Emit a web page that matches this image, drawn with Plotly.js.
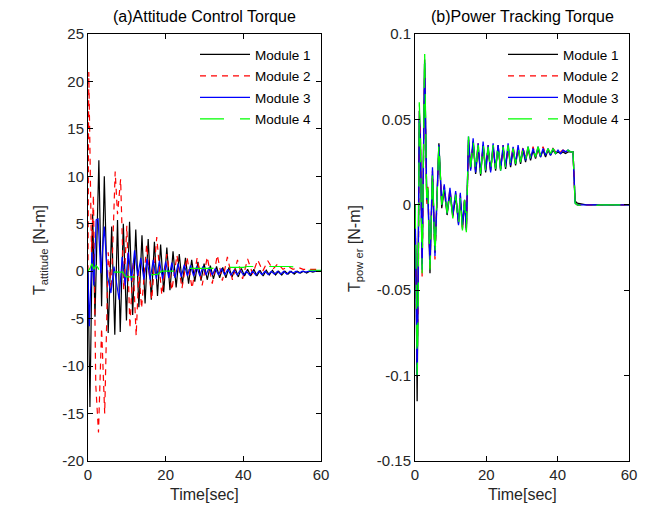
<!DOCTYPE html>
<html>
<head>
<meta charset="utf-8">
<script src="https://cdn.plot.ly/plotly-3.0.1.min.js"></script>
<style>html,body{margin:0;padding:0;background:#fff;}#chart{width:661px;height:510px;}</style>
</head>
<body>
<div id="chart"></div>
<script>
// ---------- (a) Attitude control torque [N-m] ----------
const tAttM1 = [0, 0.5, 1.2, 1.8, 2.8, 3.5, 4.2, 5.2, 6.1, 6.9, 7.6, 8.3,
  9.1, 9.9, 10.7, 11.5, 12.3, 13.1, 13.9, 14.7, 15.5, 16.3, 17.1, 17.9, 18.7, 19.5, 20.3, 21.1,
  21.9, 22.7, 23.5, 24.3, 25.1, 25.9, 26.7, 27.5, 28.3, 29.1, 29.9, 30.7, 31.5, 32.3, 33.1, 33.9,
  34.7, 35.5, 36.3, 37.1, 37.9, 38.7, 39.5, 40.3, 41.1, 41.9, 42.7, 43.5, 44.3, 45.1, 45.9, 46.7,
  47.5, 48.3, 49.1, 49.9, 50.7, 51.5, 52.3, 53.1, 53.9, 54.7, 55.5, 56.3, 57.1, 57.9, 58.7, 60];
const attM1 = [0, -14.3, 6, -4.8, 11.7, -3.7, 10, -6.5, 4.7, -6.7, 5.4, -6.4,
  5.0, -5.2, 5.2, -4.6, 4.4, -3.8, 3.8, -3.4, 3.4, -3.0, 3.1, -2.6, 2.8, -2.2, 2.5, -2.0,
  2.1, -1.7, 1.8, -1.4, 1.4, -1.3, 1.2, -1.1, 1.0, -1.0, 0.8, -0.9, 0.6, -0.8, 0.5, -0.7,
  0.4, -0.7, 0.4, -0.6, 0.3, -0.6, 0.3, -0.5, 0.2, -0.5, 0.2, -0.5, 0.1, -0.5, 0.1, -0.4,
  0.1, -0.4, 0.0, -0.4, 0.0, -0.3, 0.0, -0.3, 0.0, -0.2, 0.0, -0.2, 0.0, -0.1, 0.0, 0.0];

const tAttM2 = [0, 0.2, 0.9, 1.4, 2.0, 2.7, 3.5, 4.3, 5.2, 6.0, 7.0, 7.6, 8.4, 9.2, 10.0, 10.8,
  11.6, 12.4, 13.1, 13.8, 15.1, 16.4, 17.7, 19.0, 20.3, 21.6, 22.9, 24.2, 25.5, 26.8, 28.1, 29.4,
  30.7, 32.0, 33.3, 34.6, 35.9, 37.2, 38.5, 39.8, 41.1, 42.4, 43.7, 45.0, 46.3, 47.6, 48.9, 50.2,
  51.5, 52.8, 54.1, 55.4, 57, 60];
const attM2 = [0, 21, 2, 8, -12, -17, -6, -15, 2, -2, 10.5, 6, 9.7, -2, 4.8, -6,
  1, -6.8, 0, -3.9, 2.8, -3.0, 3.6, -2.5, 1.8, -2.0, 1.7, -1.8, 1.5, -1.8, 1.4, -1.5,
  1.5, -1.3, 1.7, -1.0, 1.5, -0.9, 1.2, -0.8, 1.3, -0.3, 1.2, 0.0, 1.1, 0.2, 0.8, 0.2,
  0.5, 0.2, 0.4, 0.2, 0.2, 0.2];

const tAttM3 = [0, 0.35, 1.0, 1.5, 2.1, 2.6, 3.3, 4.2, 5.0, 5.9, 6.7, 7.3, 8.0, 8.8, 9.6, 10.4,
  11.2, 12.0, 12.8, 13.6, 14.4, 15.2, 16.0, 16.8, 17.6, 18.4, 19.2, 20.0, 20.8, 21.6, 22.4, 23.2,
  24.0, 24.8, 25.6, 26.4, 27.2, 28.0, 28.8, 29.6, 30.4, 31.2, 32.0, 32.8, 33.6, 34.4, 35.2, 36.0,
  36.8, 37.6, 38.4, 39.2, 40.0, 40.8, 41.6, 42.4, 43.2, 44.0, 44.8, 45.6, 46.4, 47.2, 48.0, 48.8,
  49.6, 50.4, 51.2, 52.0, 52.8, 53.6, 54.4, 55.2, 56.0, 57, 60];
const attM3 = [0, -5.8, 2, -1.5, 5.4, 5.5, -0.2, 4.7, -0.5, -2.3, 0.5, -1, -3, 1.5, -1.5, 2,
  -1, 2.2, -0.5, 1.4, -0.9, 1.3, -0.9, 1.2, -0.8, 1.1, -0.8, 1.0, -0.7, 0.9, -0.7, 0.8,
  -0.6, 0.7, -0.5, 0.6, -0.5, 0.5, -0.5, 0.5, -0.4, 0.4, -0.4, 0.3, -0.4, 0.3, -0.4, 0.2,
  -0.4, 0.1, -0.4, 0.1, -0.4, 0.0, -0.4, 0.0, -0.4, 0.0, -0.35, 0.0, -0.35, 0.0, -0.3, 0.0,
  -0.3, 0.0, -0.3, 0.0, -0.2, 0.0, -0.2, 0.0, -0.1, 0.0, 0.0];

const tAttM4 = [0, 0.5, 1.0, 1.5, 2.0, 2.5, 3.0, 4, 6, 8, 9, 9.5, 10, 12, 14, 16, 18, 19, 20, 22,
  24, 25, 26, 28, 30, 32, 33, 34, 36, 38, 40, 41, 42, 44, 46, 48, 50, 52, 54, 55, 56, 58, 60];
const attM4 = [0, 0.3, 0.8, 0.2, 0.6, 0.4, 0, -0.1, -0.1, -0.1, -0.1, -0.5, -0.6, -0.6, -0.5, -0.4, -0.3, 0, 0, 0,
  0, 0.2, 0.3, 0.3, 0.3, 0.3, 0.4, 0.4, 0.4, 0.4, 0.4, 0.5, 0.5, 0.5, 0.5, 0.5, 0.5, 0.5, 0.4, 0.2, 0.1, 0.1, 0.1];

// ---------- (b) Power tracking torque [N-m] ----------
const tPow = [0, 0.3, 0.6, 0.9, 1.2, 1.5, 2.0, 2.7, 3.3, 3.6, 4.2, 4.9, 5.6, 6.7, 7.5, 8.2, 9.0, 9.8,
  10.6, 11.4, 12.2, 12.7, 13.3, 13.9, 14.4, 15.0, 15.6, 16.3, 17.0, 17.7, 18.4, 19.1, 19.8, 20.5,
  21.2, 21.9, 22.6, 23.3, 24.0, 24.7, 25.4, 26.1, 26.8, 27.5, 28.2, 28.9, 29.6, 30.3, 31.0, 31.7,
  32.4, 33.1, 33.8, 34.5, 35.2, 35.9, 36.6, 37.3, 38.0, 38.7, 39.4, 40.1, 40.8, 41.5, 42.2, 42.9,
  43.6, 44.3, 44.9, 45.5, 48, 52, 56, 60];
const powM1 = [0, -0.04, -0.115, -0.05, 0.055, 0.042, -0.035, 0.085, 0.002, 0.008, -0.04, 0.018, -0.028, 0.036, -0.002, 0.009, -0.006, 0.007,
  -0.007, 0.005, -0.011, 0.004, -0.014, 0.002, -0.015, 0.038, 0.021, 0.037, 0.018, 0.034, 0.017, 0.035, 0.019, 0.033,
  0.02, 0.034, 0.02, 0.035, 0.021, 0.033, 0.021, 0.034, 0.022, 0.032, 0.023, 0.033, 0.024, 0.032, 0.025, 0.033,
  0.026, 0.032, 0.027, 0.033, 0.028, 0.032, 0.028, 0.032, 0.029, 0.032, 0.03, 0.031, 0.03, 0.031, 0.03, 0.031,
  0.031, 0.031, 0.002, 0.001, 0, 0, 0, 0];
const powM2 = [0, -0.035, -0.09, -0.055, 0.045, 0.045, -0.042, 0.08, 0.0, 0.012, -0.037, 0.02, -0.032, 0.034, 0.001, 0.011, -0.004, 0.009,
  -0.006, 0.007, -0.01, 0.006, -0.013, 0.004, -0.014, 0.035, 0.023, 0.036, 0.02, 0.036, 0.019, 0.034, 0.021, 0.035,
  0.02, 0.033, 0.022, 0.034, 0.021, 0.035, 0.023, 0.033, 0.024, 0.034, 0.025, 0.032, 0.026, 0.034, 0.027, 0.032,
  0.028, 0.034, 0.028, 0.032, 0.029, 0.034, 0.03, 0.032, 0.03, 0.033, 0.031, 0.032, 0.031, 0.032, 0.031, 0.031,
  0.031, 0.031, 0.001, 0.0, 0, 0, 0, 0];
const powM3 = [0, -0.045, -0.1, -0.04, 0.05, 0.038, -0.038, 0.083, 0.003, 0.009, -0.035, 0.022, -0.03, 0.035, 0.0, 0.012, -0.005, 0.01,
  -0.006, 0.008, -0.012, 0.007, -0.012, 0.003, -0.014, 0.04, 0.02, 0.039, 0.019, 0.036, 0.018, 0.037, 0.02, 0.035,
  0.019, 0.036, 0.021, 0.035, 0.02, 0.035, 0.022, 0.036, 0.023, 0.034, 0.024, 0.035, 0.025, 0.033, 0.026, 0.034,
  0.027, 0.033, 0.028, 0.034, 0.028, 0.033, 0.029, 0.033, 0.029, 0.033, 0.03, 0.032, 0.03, 0.032, 0.031, 0.032,
  0.031, 0.031, 0.001, 0, 0, 0, 0, 0];
const powM4 = [0, -0.03, -0.1, -0.06, 0.06, 0.04, -0.04, 0.09, 0.0, 0.01, -0.038, 0.02, -0.03, 0.036, 0.0, 0.01, -0.005, 0.008,
  -0.008, 0.006, -0.012, 0.005, -0.015, 0.003, -0.016, 0.04, 0.022, 0.038, 0.019, 0.035, 0.018, 0.036, 0.02, 0.034,
  0.019, 0.035, 0.021, 0.036, 0.02, 0.034, 0.022, 0.035, 0.023, 0.033, 0.024, 0.034, 0.025, 0.033, 0.026, 0.034,
  0.027, 0.033, 0.028, 0.034, 0.029, 0.033, 0.029, 0.033, 0.03, 0.033, 0.03, 0.032, 0.03, 0.032, 0.031, 0.032,
  0.031, 0.031, 0.001, 0.0, -0.001, 0, 0, 0];

// ---------- labels / ticks ----------
const moduleNames = ['Module 1', 'Module 2', 'Module 3', 'Module 4'];
const xTicks = [0, 20, 40, 60];
const yTicksA = [-20, -15, -10, -5, 0, 5, 10, 15, 20, 25];
const yTextA = ['-20', '-15', '-10', '-5', '0', '5', '10', '15', '20', '25'];
const yTicksB = [-0.15, -0.1, -0.05, 0, 0.05, 0.1];
const yTextB = ['-0.15', '-0.1', '-0.05', '0', '0.05', '0.1'];

const FONT = 'Liberation Sans, Arial, Helvetica, sans-serif';
const colors = ['#000000', '#ff0000', '#0000ff', '#00ff00'];
const dashes = ['solid', '6px,5px', 'solid', '24px,16px'];

const attT = [tAttM1, tAttM2, tAttM3, tAttM4];
const attV = [attM1, attM2, attM3, attM4];
const powV = [powM1, powM2, powM3, powM4];

const traces = [];
for (let i = 0; i < 4; i++) {
  traces.push({
    x: attT[i], y: attV[i], type: 'scatter', mode: 'lines', name: moduleNames[i],
    xaxis: 'x', yaxis: 'y', legend: 'legend', legendgroup: 'a' + i,
    line: {color: colors[i], width: 1.2, dash: dashes[i]}
  });
}
for (let i = 0; i < 4; i++) {
  traces.push({
    x: tPow, y: powV[i], type: 'scatter', mode: 'lines', name: moduleNames[i],
    xaxis: 'x2', yaxis: 'y2', legend: 'legend2', legendgroup: 'b' + i,
    line: {color: colors[i], width: 1.3, dash: dashes[i]}
  });
}

const axisCommon = {
  showline: true, linecolor: '#000', linewidth: 1, mirror: 'allticks',
  ticks: 'inside', ticklen: 5, tickwidth: 1, tickcolor: '#000',
  showgrid: false, zeroline: false, fixedrange: true,
  tickfont: {family: FONT, size: 15, color: '#262626'}
};

const legendCommon = {
  bgcolor: 'rgba(0,0,0,0)', borderwidth: 0,
  font: {family: FONT, size: 13.5, color: '#000'},
  xanchor: 'left', yanchor: 'top', tracegroupgap: 1, itemwidth: 50
};

const W = 541, H = 427; // plot region in px (paper)
function px(xp) { return (xp - 88) / W; }
function py(yp) { return (461 - yp) / H; }

const layout = {
  width: 661, height: 510,
  margin: {l: 88, r: 32, t: 34, b: 49, pad: 0},
  paper_bgcolor: '#fff', plot_bgcolor: '#fff',
  showlegend: true,
  xaxis: Object.assign({}, axisCommon, {domain: [0, 233 / W], range: [0, 60], tickvals: xTicks, anchor: 'y'}),
  yaxis: Object.assign({}, axisCommon, {domain: [0, 1], range: [-20, 25], tickvals: yTicksA, ticktext: yTextA, anchor: 'x'}),
  xaxis2: Object.assign({}, axisCommon, {domain: [327 / W, 1], range: [0, 60], tickvals: xTicks, anchor: 'y2'}),
  yaxis2: Object.assign({}, axisCommon, {domain: [0, 1], range: [-0.15, 0.1], tickvals: yTicksB, ticktext: yTextB, anchor: 'x2'}),
  legend: Object.assign({}, legendCommon, {x: px(195), y: py(39)}),
  legend2: Object.assign({}, legendCommon, {x: px(503), y: py(39)}),
  annotations: [
    {text: '(a)Attitude Control Torque', x: px(204.5), y: py(17), xref: 'paper', yref: 'paper', showarrow: false,
     xanchor: 'center', yanchor: 'middle', font: {family: FONT, size: 16, color: '#000'}},
    {text: '(b)Power Tracking Torque', x: px(522), y: py(17), xref: 'paper', yref: 'paper', showarrow: false,
     xanchor: 'center', yanchor: 'middle', font: {family: FONT, size: 16, color: '#000'}},
    {text: 'Time[sec]', x: px(204.5), y: py(494), xref: 'paper', yref: 'paper', showarrow: false,
     xanchor: 'center', yanchor: 'middle', font: {family: FONT, size: 16, color: '#262626'}},
    {text: 'Time[sec]', x: px(522), y: py(494), xref: 'paper', yref: 'paper', showarrow: false,
     xanchor: 'center', yanchor: 'middle', font: {family: FONT, size: 16, color: '#262626'}},
    {text: 'T<sub>attitude</sub> [N-m]', x: px(40), y: py(250), xref: 'paper', yref: 'paper', showarrow: false,
     textangle: -90, xanchor: 'center', yanchor: 'middle', font: {family: FONT, size: 16, color: '#262626'}},
    {text: 'T<sub>pow er</sub> [N-m]', x: px(355), y: py(249), xref: 'paper', yref: 'paper', showarrow: false,
     textangle: -90, xanchor: 'center', yanchor: 'middle', font: {family: FONT, size: 16, color: '#262626'}}
  ]
};

Plotly.newPlot('chart', traces, layout, {staticPlot: true, displayModeBar: false});
</script>
</body>
</html>
